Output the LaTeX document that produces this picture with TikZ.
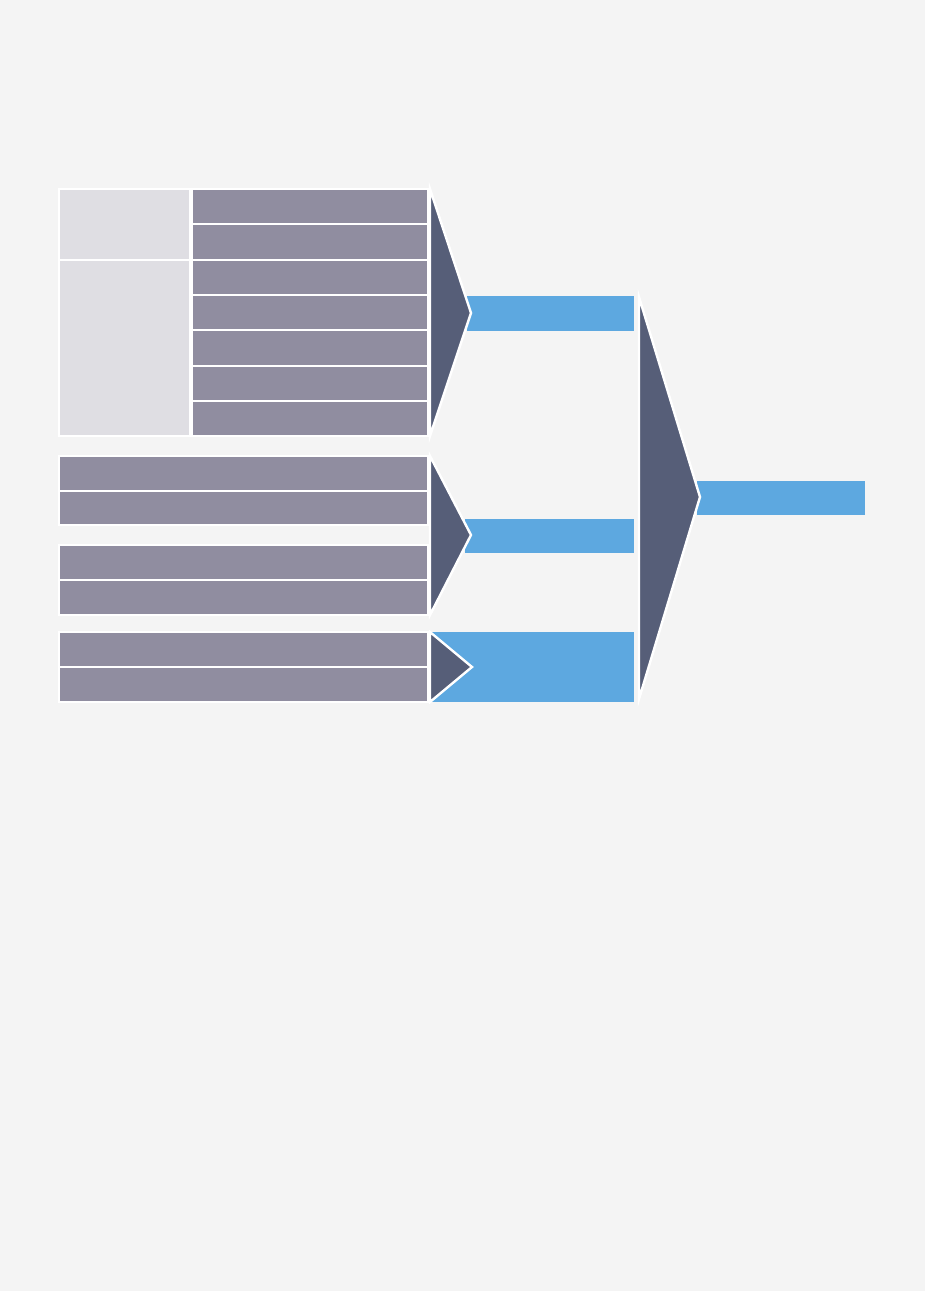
\documentclass[tikz,border=0pt]{standalone}
\definecolor{bgc}{HTML}{F4F4F4}
\definecolor{lightc}{HTML}{DFDEE3}
\definecolor{barc}{HTML}{908DA0}
\definecolor{darkc}{HTML}{565E78}
\definecolor{bluec}{HTML}{5DA8E0}
\tikzset{
  cell/.style={fill=lightc, draw=white, line width=1.5pt},
  bar/.style={fill=barc, draw=white, line width=1.5pt},
  chev/.style={fill=darkc, draw=white, line width=1.8pt, line join=miter},
  outbar/.style={fill=bluec, draw=none},
}
\begin{document}
\begin{tikzpicture}[x=0.75pt,y=-0.75pt]
\fill[bgc] (0,0) rectangle (925,1291);
\useasboundingbox (0,0) rectangle (925,1291);
% group 1
\draw[cell] (59,189) rectangle (190,260);
\draw[cell] (59,260) rectangle (190,436);
\foreach \a/\b in {189/224,224/260,260/295,295/330,330/366,366/401,401/436}
  \draw[bar] (192,\a) rectangle (428,\b);
% group 2
\foreach \a/\b in {456/491,491/525,545/580,580/615}
  \draw[bar] (59,\a) rectangle (428,\b);
% group 3
\foreach \a/\b in {632/667,667/702}
  \draw[bar] (59,\a) rectangle (428,\b);
% blue outputs
\fill[bluec] (467,296) rectangle (634,331);
\fill[bluec] (465,519) rectangle (634,553);
\fill[bluec] (432,632) rectangle (634,702);
\fill[bluec] (697,481) rectangle (865,515);
% chevrons
\draw[chev] (430,189) -- (471,313) -- (430,436) -- cycle;
\draw[chev] (430,456) -- (471,535) -- (430,615) -- cycle;
\draw[chev] (430,632) -- (472,667) -- (430,702) -- cycle;
\draw[chev] (639,297) -- (700,497) -- (639,699) -- cycle;
\end{tikzpicture}
\end{document}
